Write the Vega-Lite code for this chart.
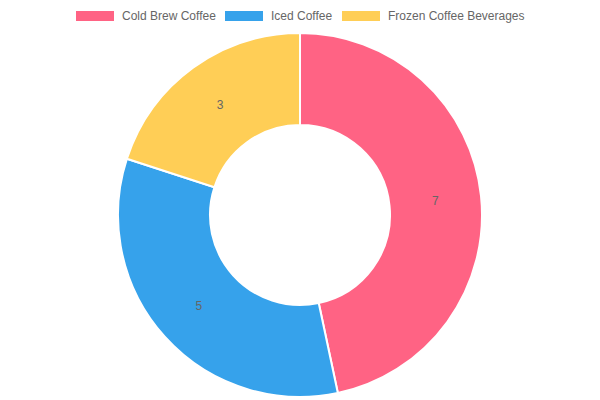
{
  "$schema": "https://vega.github.io/schema/vega-lite/v6.json",
  "width": 600,
  "height": 430,
  "autosize": "none",
  "padding": 0,
  "background": "white",
  "config": {"view": {"stroke": null}, "font": "Liberation Sans"},
  "data": {"values": [
    {"category": "Cold Brew Coffee", "value": 7, "order": 1},
    {"category": "Iced Coffee", "value": 5, "order": 2},
    {"category": "Frozen Coffee Beverages", "value": 3, "order": 3}
  ]},
  "encoding": {
    "theta": {"field": "value", "type": "quantitative", "stack": true},
    "order": {"field": "order", "type": "quantitative"}
  },
  "layer": [
    {
      "mark": {"type": "arc", "outerRadius": 182, "innerRadius": 90, "stroke": "white", "strokeWidth": 2},
      "encoding": {
        "color": {
          "field": "category", "type": "nominal",
          "scale": {"domain": ["Cold Brew Coffee", "Iced Coffee", "Frozen Coffee Beverages"], "range": ["#FF6384", "#36A2EB", "#FFCE56"]},
          "legend": {
            "title": null, "orient": "none", "direction": "horizontal",
            "legendX": 76, "legendY": -3,
            "symbolType": "M-1,-0.263L1,-0.263L1,0.263L-1,0.263Z",
            "symbolSize": 1444, "symbolStrokeWidth": 0,
            "labelFontSize": 12, "labelColor": "#666666", "labelFont": "Liberation Sans",
            "columnPadding": 9, "labelOffset": 8, "padding": 0
          }
        }
      }
    },
    {
      "mark": {"type": "text", "radius": 136, "fontSize": 12, "color": "#666666", "font": "Liberation Sans"},
      "encoding": {"text": {"field": "value", "type": "quantitative"}}
    }
  ]
}
